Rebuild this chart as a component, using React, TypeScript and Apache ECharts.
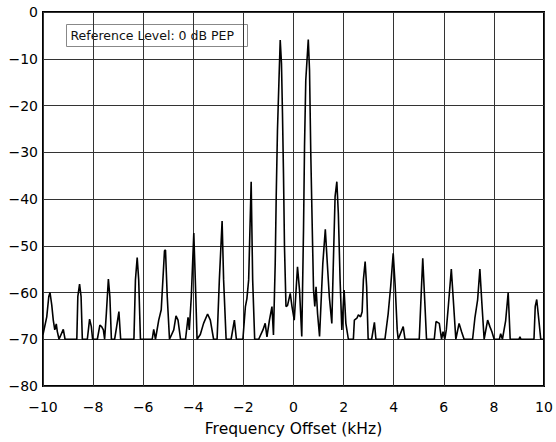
import React, { useEffect, useRef } from "react";
import * as echarts from "echarts";

const xTicks = [-10, -8, -6, -4, -2, 0, 2, 4, 6, 8, 10];
const yTicks = [0, -10, -20, -30, -40, -50, -60, -70, -80];

const freqKHz = [
  -10, -9.85, -9.77, -9.72, -9.65, -9.59, -9.53, -9.47, -9.43, -9.36, -9.19, -9.12,
  -8.65, -8.61, -8.54, -8.48, -8.43, -8.23, -8.14, -8.07, -8.02, -7.83, -7.73, -7.66,
  -7.59, -7.54, -7.47, -7.39, -7.33, -7.27, -7.14, -7.06, -6.97, -6.9, -6.37, -6.31,
  -6.24, -6.18, -6.11, -5.64, -5.58, -5.51, -5.38, -5.28, -5.15, -5.11, -5.04, -4.95,
  -4.78, -4.69, -4.61, -4.51, -4.31, -4.21, -4.16, -4.08, -3.98, -3.92, -3.85, -3.72,
  -3.59, -3.43, -3.32, -3.19, -3.05, -2.96, -2.85, -2.79, -2.69, -2.49, -2.36, -2.28,
  -2.02, -1.92, -1.86, -1.79, -1.69, -1.63, -1.55, -1.39, -1.22, -1.13, -1.06, -0.96,
  -0.86, -0.8, -0.73, -0.69, -0.64, -0.58, -0.53, -0.48, -0.44, -0.4, -0.36, -0.3,
  -0.24, -0.13, -0.06, 0.03, 0.16, 0.24, 0.33, 0.4, 0.44, 0.49, 0.59, 0.64,
  0.69, 0.75, 0.8, 0.85, 0.9, 0.96, 1.04, 1.17, 1.27, 1.35, 1.43, 1.53,
  1.59, 1.66, 1.73, 1.79, 1.86, 1.93, 2.02, 2.09, 2.19, 2.39, 2.43, 2.53,
  2.59, 2.68, 2.74, 2.79, 2.86, 2.92, 2.98, 3.12, 3.23, 3.29, 3.65, 3.78,
  3.88, 3.98, 4.06, 4.14, 4.18, 4.38, 4.45, 5.02, 5.1, 5.16, 5.25, 5.31,
  5.62, 5.69, 5.82, 5.91, 5.97, 6.04, 6.1, 6.18, 6.3, 6.38, 6.48, 6.61,
  6.71, 6.81, 7.15, 7.24, 7.35, 7.44, 7.52, 7.61, 7.75, 7.84, 7.92, 8.01,
  8.22, 8.27, 8.34, 8.47, 8.57, 8.65, 9.0, 9.04, 9.08, 9.6, 9.65, 9.71,
  9.8, 9.87, 10,
];

const levelDb = [
  -69, -65.2, -60.9, -60, -62.7, -65.9, -68, -66.7, -68.3, -70, -67.9, -70,
  -70, -60.9, -58.2, -60.9, -70, -70, -65.7, -67.3, -70, -70, -67, -67.3,
  -68, -70, -64.4, -57.1, -60.9, -70, -70, -67.3, -64.1, -70, -70, -57.3,
  -52.5, -57.3, -70, -70, -67.9, -70, -65.9, -63.7, -51.1, -50.9, -60.9, -70,
  -68, -65, -65.9, -70, -70, -65.3, -68, -60.9, -47.3, -57.3, -70, -69,
  -66.6, -64.6, -65.9, -70, -70, -57.3, -44.7, -57.3, -70, -70, -65.9, -70,
  -70, -63, -61.3, -57.3, -36.3, -57.3, -70, -70, -68, -66.6, -69.5, -65.9,
  -63, -69.1, -53.8, -39.5, -25.3, -14.6, -6.0, -11.0, -21.7, -34.5, -50.2, -63,
  -62.8, -60.2, -63, -65.9, -54.5, -59.5, -69.4, -46.6, -28.8, -14.6, -5.9, -12.5,
  -30.3, -46.6, -59.5, -63, -58.8, -64.5, -69.4, -53.8, -46.5, -53.8, -60.9, -66.6,
  -53.8, -39.5, -36.3, -43.1, -57.3, -68, -59.5, -66.6, -70, -70, -65.9, -65.5,
  -64.8, -65.2, -64.1, -57.3, -53.4, -58.8, -70, -70, -66.4, -70, -70, -64.5,
  -58.7, -51.6, -58.7, -68, -70, -67.3, -70, -70, -60, -52.7, -63, -70,
  -70, -66.2, -66.6, -70, -68.4, -70, -68, -63, -55.0, -61.6, -70, -66.6,
  -68.4, -70, -70, -65.5, -61.6, -55.0, -62.3, -70, -65.9, -67.3, -68.4, -70,
  -70, -68.8, -70, -66, -60.0, -70, -70, -69.5, -70, -70, -63, -61.5,
  -66.2, -70, -70,
];

const fmtMinus = (v: number) => String(v).replace("-", "\u2212");

export default function App() {
  const ref = useRef<HTMLDivElement>(null);
  useEffect(() => {
    document.body.style.margin = "0";
    const chart = echarts.init(ref.current!, undefined, { renderer: "svg" });
    const data = freqKHz.map((f, i) => [f, levelDb[i]]);
    const font = "'DejaVu Sans', Verdana, sans-serif";
    chart.setOption({
      animation: false,
      backgroundColor: "#ffffff",
      grid: {
        left: 43,
        right: 12,
        top: 12,
        bottom: 56,
        show: true,
        borderColor: "#000",
        borderWidth: 2,
        backgroundColor: "transparent",
      },
      xAxis: {
        type: "value",
        min: -10,
        max: 10,
        interval: 2,
        name: "Frequency Offset (kHz)",
        nameLocation: "middle",
        nameGap: 35,
        nameTextStyle: { color: "#000", fontSize: 15.5, fontFamily: font },
        axisLine: { show: false },
        axisTick: { show: false },
        axisLabel: {
          color: "#000",
          fontSize: 14,
          fontFamily: font,
          margin: 14,
          formatter: (v: number) => (xTicks.includes(v) ? fmtMinus(v) : ""),
        },
        splitLine: { show: true, lineStyle: { color: "#333", width: 1 } },
      },
      yAxis: {
        type: "value",
        min: -80,
        max: 0,
        interval: 10,
        axisLine: { show: false },
        axisTick: { show: false },
        axisLabel: {
          color: "#000",
          fontSize: 14,
          fontFamily: font,
          margin: 5,
          formatter: (v: number) => (yTicks.includes(v) ? fmtMinus(v) : ""),
        },
        splitLine: { show: true, lineStyle: { color: "#333", width: 1 } },
      },
      graphic: [
        {
          type: "group",
          left: 66,
          top: 24,
          children: [
            {
              type: "rect",
              shape: { x: 0, y: 0, width: 181, height: 22 },
              style: { fill: "#fff", stroke: "#888", lineWidth: 1 },
            },
            {
              type: "text",
              x: 4,
              y: 11,
              style: {
                text: "Reference Level: 0 dB PEP",
                fill: "#111",
                fontSize: 12.5,
                fontFamily: font,
                verticalAlign: "middle",
              },
            },
          ],
        },
      ],
      series: [
        {
          type: "line",
          data,
          symbol: "none",
          lineStyle: { color: "#000", width: 1.6 },
          z: 3,
        },
      ],
    });
    return () => chart.dispose();
  }, []);
  return <div ref={ref} style={{ width: 556, height: 442 }} />;
}
